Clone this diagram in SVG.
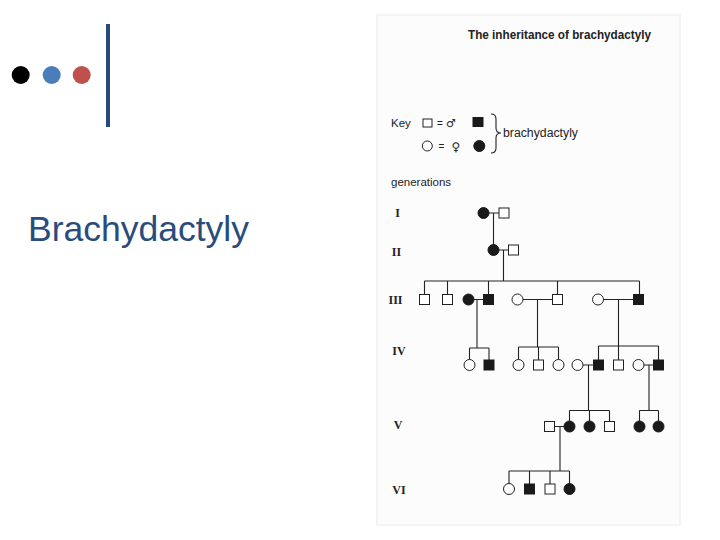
<svg xmlns="http://www.w3.org/2000/svg" width="720" height="540" viewBox="0 0 720 540">
<style>
.ln{stroke:#222;stroke-width:1.1;fill:none}
.o{fill:#fff;stroke:#222;stroke-width:1}
.f{fill:#1a1a1a;stroke:#1a1a1a;stroke-width:1}
.gen{font-family:"Liberation Serif",serif;font-weight:bold;font-size:12px;fill:#222}
.sans{font-family:"Liberation Sans",Arial,sans-serif;fill:#222}
</style>
<rect width="720" height="540" fill="#fff"/>
<g id="deco">
<circle cx="20.7" cy="75" r="9" fill="#000"/>
<circle cx="51.7" cy="75" r="9" fill="#4a7ebb"/>
<circle cx="81.7" cy="75" r="9" fill="#c0504d"/>
<rect x="106" y="24" width="4" height="103" fill="#264a7a"/>
</g>
<text id="slide-title" x="28" y="241" font-family="Liberation Sans,Arial,sans-serif" font-size="35" fill="#294c7c" textLength="221" lengthAdjust="spacingAndGlyphs">Brachydactyly</text>
<rect id="panel" x="377" y="15" width="303" height="510" fill="#fcfcfc" stroke="#f3f3f3" stroke-width="2"/>
<text id="title" class="sans" x="468" y="38.5" font-size="12.5" font-weight="bold" textLength="183" lengthAdjust="spacingAndGlyphs">The inheritance of brachydactyly</text>
<g id="key">
<text class="sans" x="391" y="127" font-size="11.5">Key</text>
<rect class="o" x="423" y="119" width="9" height="8"/>
<text class="sans" x="440" y="127" font-size="10" text-anchor="middle">=</text>
<text x="451" y="127" font-family="DejaVu Sans,sans-serif" font-size="11" fill="#222" text-anchor="middle">♂</text>
<rect class="f" x="473" y="117.5" width="10" height="9"/>
<circle class="o" cx="427.3" cy="146" r="5"/>
<text class="sans" x="441.5" y="150" font-size="10" text-anchor="middle">=</text>
<text x="456" y="151" font-family="DejaVu Sans,sans-serif" font-size="12" fill="#222" text-anchor="middle">♀</text>
<circle class="f" cx="479.3" cy="146" r="5.5"/>
<path class="ln" d="M491,114 Q496,114 496,119 L496,128 Q496,133 501,133 Q496,133 496,138 L496,148 Q496,153 491,153" stroke-width="1"/>
<text class="sans" x="503" y="137" font-size="12" textLength="75" lengthAdjust="spacingAndGlyphs">brachydactyly</text>
<text class="sans" x="391" y="186" font-size="11.5">generations</text>
</g>
<g id="labels">
<text class="gen" x="397.5" y="217" text-anchor="middle">I</text>
<text class="gen" x="396.5" y="255.5" text-anchor="middle">II</text>
<text class="gen" x="395.5" y="303.5" text-anchor="middle">III</text>
<text class="gen" x="399" y="355" text-anchor="middle">IV</text>
<text class="gen" x="398" y="429" text-anchor="middle">V</text>
<text class="gen" x="399" y="493.5" text-anchor="middle">VI</text>
</g>
<g id="connectors" class="ln">
<path d="M483.5,213 H499 M493.5,213 V250"/>
<path d="M493.5,250 H508.5 M503.5,250 V281"/>
<path d="M424.5,281 H639.5 M424.5,281 V294.5 M447.5,281 V294.5 M488.5,281 V294.5 M557.5,281 V294.5 M639.5,281 V294.5"/>
<path d="M468.5,299.5 H483.5 M477,299.5 V348"/>
<path d="M517.5,299.5 H552.5 M537.5,299.5 V347"/>
<path d="M598,299.5 H633.5 M618.5,299.5 V346"/>
<path d="M469.5,348 H489 M469.5,348 V360 M489,348 V360"/>
<path d="M518.5,347 H558.5 M518.5,347 V360 M538.5,347 V360 M558.5,347 V360"/>
<path d="M598.5,346 H658.5 M598.5,346 V360 M618.5,346 V360 M658.5,346 V360"/>
<path d="M577.5,365 H593.5 M588.5,365 V410.5"/>
<path d="M638.5,365 H653.5 M649,365 V410.5"/>
<path d="M569.5,410.5 H609.5 M569.5,410.5 V421.5 M589.5,410.5 V421.5 M609.5,410.5 V421.5"/>
<path d="M639.5,410.5 H658.5 M639.5,410.5 V421.5 M658.5,410.5 V421.5"/>
<path d="M549.5,426.5 H569.5 M560,426.5 V471"/>
<path d="M509,471 H569.5 M509,471 V484 M529.5,471 V484 M550,471 V484 M569.5,471 V484"/>
</g>
<g id="gen1">
<circle id="I-1" class="f" cx="483.5" cy="213" r="5.5"/>
<rect id="I-2" class="o" x="499" y="208" width="10" height="10"/>
</g>
<g id="gen2">
<circle id="II-1" class="f" cx="493.5" cy="250" r="5.5"/>
<rect id="II-2" class="o" x="508.5" y="245" width="10" height="10"/>
</g>
<g id="gen3">
<rect id="III-1" class="o" x="419.5" y="294.5" width="10" height="10"/>
<rect id="III-2" class="o" x="442.5" y="294.5" width="10" height="10"/>
<circle id="III-3" class="f" cx="468.5" cy="299.5" r="5.5"/>
<rect id="III-4" class="f" x="483.5" y="294.5" width="10" height="10"/>
<circle id="III-5" class="o" cx="517.5" cy="299.5" r="5.5"/>
<rect id="III-6" class="o" x="552.5" y="294.5" width="10" height="10"/>
<circle id="III-7" class="o" cx="598" cy="299.5" r="5.5"/>
<rect id="III-8" class="f" x="633.5" y="294.5" width="10" height="10"/>
</g>
<g id="gen4">
<circle id="IV-1" class="o" cx="469.5" cy="365" r="5.5"/>
<rect id="IV-2" class="f" x="484" y="360" width="10" height="10"/>
<circle id="IV-3" class="o" cx="518.5" cy="365" r="5.5"/>
<rect id="IV-4" class="o" x="533.5" y="360" width="10" height="10"/>
<circle id="IV-5" class="o" cx="558.5" cy="365" r="5.5"/>
<circle id="IV-6" class="o" cx="577.5" cy="365" r="5.5"/>
<rect id="IV-7" class="f" x="593.5" y="360" width="10" height="10"/>
<rect id="IV-8" class="o" x="613.5" y="360" width="10" height="10"/>
<circle id="IV-9" class="o" cx="638.5" cy="365" r="5.5"/>
<rect id="IV-10" class="f" x="653.5" y="360" width="10" height="10"/>
</g>
<g id="gen5">
<rect id="V-1" class="o" x="544.5" y="421.5" width="10" height="10"/>
<circle id="V-2" class="f" cx="569.5" cy="426.5" r="5.5"/>
<circle id="V-3" class="f" cx="589.5" cy="426.5" r="5.5"/>
<rect id="V-4" class="o" x="604.5" y="421.5" width="10" height="10"/>
<circle id="V-5" class="f" cx="639.5" cy="426.5" r="5.5"/>
<circle id="V-6" class="f" cx="658.5" cy="426.5" r="5.5"/>
</g>
<g id="gen6">
<circle id="VI-1" class="o" cx="509" cy="489" r="5.5"/>
<rect id="VI-2" class="f" x="524.5" y="484" width="10" height="10"/>
<rect id="VI-3" class="o" x="545" y="484" width="10" height="10"/>
<circle id="VI-4" class="f" cx="569.5" cy="489" r="5.5"/>
</g>
</svg>
